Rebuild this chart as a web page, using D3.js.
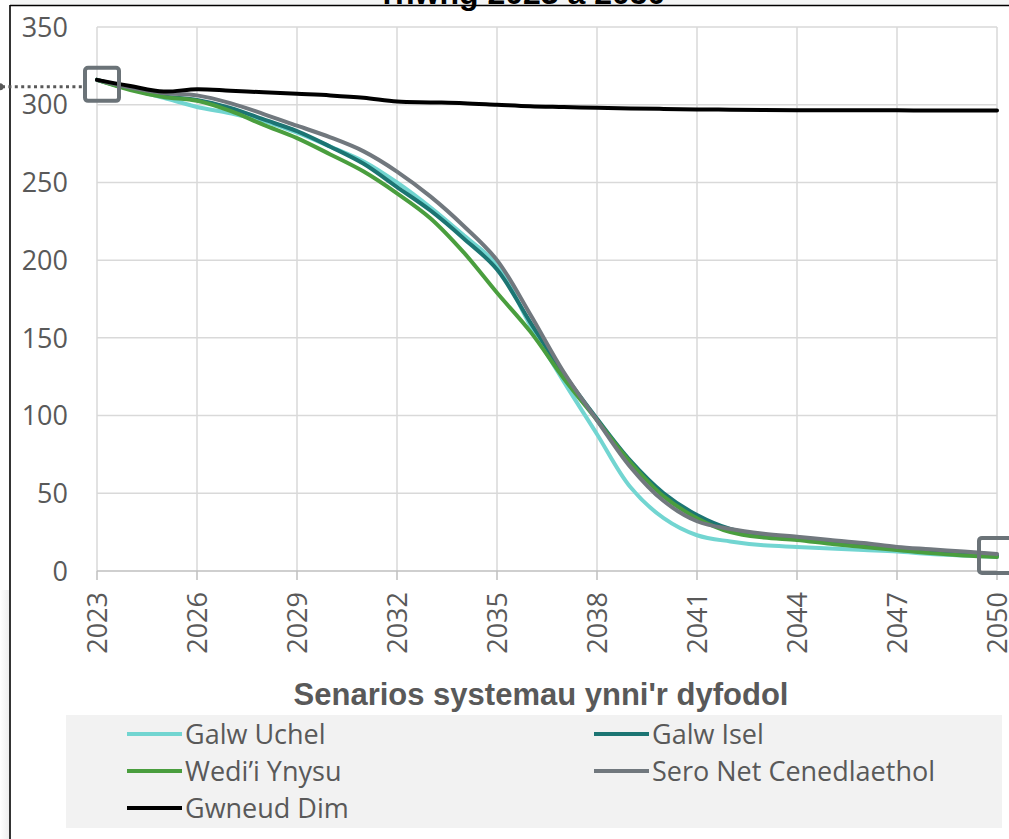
<!DOCTYPE html>
<html><head><meta charset="utf-8">
<script src="https://cdn.jsdelivr.net/npm/d3@7"></script>
<style>html,body{margin:0;padding:0;background:#fff;}svg{display:block;}</style>
</head><body>
<svg id="c" width="1009" height="839"></svg>
<script>
const years = [2023,2024,2025,2026,2027,2028,2029,2030,2031,2032,2033,2034,2035,2036,2037,2038,2039,2040,2041,2042,2043,2044,2045,2046,2047,2048,2049,2050];
const galwUchel = [316,310,304.5,298.5,294.5,289.5,282,273,263.5,250,234,216,197,158,122,88,54,34,23,19,16.5,15.5,14.5,13.5,12.5,11,10,9];
const galwIsel  = [316,310,305.5,303,298,290.5,283,273,262,247,232,214,194,160,127,98,71,50,36,27,23,21,19,17,14,12.5,11,10];
const wediYnysu = [316,309.5,305,302.5,296,287,278.5,268,257,243,227,205,179,154,124,97,70,48,34,25,21.5,20,17.5,15.5,13.5,11.5,10,9];
const seroNet   = [316,311,307.5,306,301,294,286.5,279,270,257,241,222,200,165,128,97,67,45,32,27,24,22,20,18,15.5,14,12.5,11];
const gwneudDim = [316,312,308.5,310,309,308,307,306,304.5,302,301.5,301,300,299,298.5,298,297.5,297.3,297,296.8,296.6,296.5,296.5,296.4,296.4,296.3,296.3,296.3];
const seriesNames = ["Galw Uchel","Galw Isel","Wedi\u2019i Ynysu","Sero Net Cenedlaethol","Gwneud Dim"];
const seriesColors = ["#72d5d1","#1c7573","#4a9e3e","#71787e","#000000"];
const xTicks = [2023,2026,2029,2032,2035,2038,2041,2044,2047,2050];
const yTicks = [0,50,100,150,200,250,300,350];
const xTitle = "Senarios systemau ynni'r dyfodol";
const chartTitle = "rhwng 2023 a 2050";

const allSeries = [galwUchel, galwIsel, wediYnysu, seroNet, gwneudDim];
const svg = d3.select("#c");
const x = d3.scaleLinear().domain([2023,2050]).range([97,997]);
const y = d3.scaleLinear().domain([0,350]).range([571,27]);

// background shadows
svg.append("rect").attr("x",10).attr("y",0).attr("width",999).attr("height",5).attr("fill","#f4f5f5");
const lg = svg.append("defs").append("linearGradient").attr("id","sh").attr("x1",0).attr("x2",1).attr("y1",0).attr("y2",0);
lg.append("stop").attr("offset","0").attr("stop-color","#ffffff");
lg.append("stop").attr("offset","1").attr("stop-color","#eeeeee");
svg.append("rect").attr("x",0).attr("y",590).attr("width",9).attr("height",249).attr("fill","url(#sh)");

// frame
svg.append("line").attr("x1",10).attr("x2",10).attr("y1",5).attr("y2",839).attr("stroke","#000").attr("stroke-width",1.6);
svg.append("line").attr("x1",10).attr("x2",1009).attr("y1",5.5).attr("y2",5.5).attr("stroke","#000").attr("stroke-width",1.6);

// title (cut off)
svg.append("text").attr("x",524).attr("y",4).attr("text-anchor","middle")
  .attr("font-family","Liberation Sans, Arial, sans-serif").attr("font-weight","bold").attr("font-size",32)
  .attr("fill","#000").text(chartTitle);

// gridlines
svg.append("g").selectAll("line").data(yTicks.filter(d=>d>0)).join("line")
  .attr("x1",x(2023)).attr("x2",x(2050)).attr("y1",d=>y(d)).attr("y2",d=>y(d))
  .attr("stroke","#d9d9d9").attr("stroke-width",1.5);
svg.append("g").selectAll("line").data(xTicks).join("line")
  .attr("x1",d=>x(d)).attr("x2",d=>x(d)).attr("y1",y(350)).attr("y2",y(0))
  .attr("stroke","#d9d9d9").attr("stroke-width",1.5);
// x axis line and ticks
svg.append("line").attr("x1",x(2023)).attr("x2",x(2050)).attr("y1",y(0)).attr("y2",y(0)).attr("stroke","#bfbfbf").attr("stroke-width",1.5);
svg.append("g").selectAll("line").data(xTicks).join("line")
  .attr("x1",d=>x(d)).attr("x2",d=>x(d)).attr("y1",y(0)).attr("y2",y(0)+9)
  .attr("stroke","#bfbfbf").attr("stroke-width",1.5);

// y labels
svg.append("g").selectAll("text").data(yTicks).join("text")
  .attr("x",68).attr("y",d=>y(d)).attr("dy","0.36em").attr("text-anchor","end")
  .attr("font-family","Open Sans, sans-serif").attr("font-size",27).attr("fill","#595959")
  .text(d=>d);
// x labels
svg.append("g").selectAll("text").data(xTicks).join("text")
  .attr("transform",d=>`translate(${x(d)},${y(0)+21}) rotate(-90)`)
  .attr("dy","0.36em").attr("text-anchor","end")
  .attr("font-family","Open Sans, sans-serif").attr("font-size",27).attr("fill","#595959")
  .text(d=>d);

// x title
svg.append("text").attr("x",541).attr("y",705).attr("text-anchor","middle")
  .attr("font-family","Liberation Sans, Arial, sans-serif").attr("font-weight","bold").attr("font-size",31)
  .attr("fill","#595959").text(xTitle);

// lines
const line = d3.line().x((d,i)=>x(years[i])).y(d=>y(d)).curve(d3.curveCatmullRom.alpha(0.5));
svg.append("g").selectAll("path").data(allSeries).join("path")
  .attr("d",d=>line(d)).attr("fill","none")
  .attr("stroke",(d,i)=>seriesColors[i]).attr("stroke-width",4).attr("stroke-linejoin","round").attr("stroke-linecap","round");

// annotations
const boxCol = "#6b7378";
svg.append("line").attr("x1",2).attr("x2",x(2023)-14).attr("y1",y(gwneudDim[0])+7).attr("y2",y(gwneudDim[0])+7)
  .attr("stroke","#595959").attr("stroke-width",3).attr("stroke-dasharray","3,3.4");
svg.append("circle").attr("cx",0).attr("cy",y(gwneudDim[0])+7).attr("r",3.5).attr("fill","#595959");
svg.append("rect").attr("x",x(2023)-12).attr("y",y(gwneudDim[0])-12).attr("width",34).attr("height",33)
  .attr("rx",3).attr("fill","none").attr("stroke",boxCol).attr("stroke-width",4);
svg.append("rect").attr("x",x(2050)-18).attr("y",y(seroNet[27])-16).attr("width",38).attr("height",35)
  .attr("rx",3).attr("fill","none").attr("stroke",boxCol).attr("stroke-width",4);

// legend
svg.append("rect").attr("x",66).attr("y",715).attr("width",936).attr("height",113).attr("fill","#f2f2f2");
const legPos = [[127,734],[594,734],[127,771],[594,771],[127,808]];
const lgG = svg.append("g").selectAll("g").data(seriesNames).join("g")
  .attr("transform",(d,i)=>`translate(${legPos[i][0]},${legPos[i][1]})`);
lgG.append("line").attr("x1",0).attr("x2",55).attr("y1",0).attr("y2",0)
  .attr("stroke",(d,i)=>seriesColors[i]).attr("stroke-width",4);
lgG.append("text").attr("x",58).attr("y",0).attr("dy","0.36em")
  .attr("font-family","Open Sans, sans-serif").attr("font-size",27).attr("fill","#595959").text(d=>d);
</script>
</body></html>
